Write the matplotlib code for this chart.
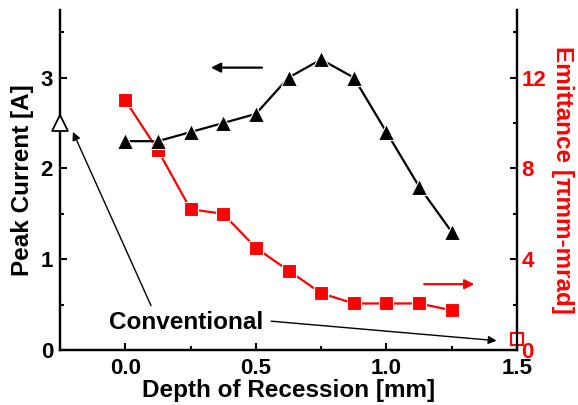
import matplotlib
matplotlib.use("Agg")
import matplotlib.pyplot as plt
from matplotlib.ticker import MultipleLocator

plt.rcParams['font.family'] = ['Liberation Sans', 'DejaVu Sans']
plt.rcParams['font.weight'] = 'bold'

depth = [0.0, 0.125, 0.25, 0.375, 0.5, 0.625, 0.75, 0.875, 1.0, 1.125, 1.25]
peak_current = [2.3, 2.3, 2.4, 2.5, 2.6, 3.0, 3.2, 3.0, 2.4, 1.8, 1.3]
emittance = [11.0, 8.8, 6.2, 6.0, 4.5, 3.5, 2.5, 2.05, 2.05, 2.05, 1.75]
conv_depth_current = -0.25
conv_current = 2.5
conv_depth_emit = 1.5
conv_emit = 0.5

fig = plt.figure(figsize=(5.78, 4.05), dpi=100)
ax = fig.add_axes([0.1038, 0.1358, 0.7907, 0.8407])
ax2 = ax.twinx()
ax.set_zorder(ax2.get_zorder() + 1)
ax.patch.set_visible(False)

ax2.plot(depth, emittance, color='#ff0000', lw=1.6, marker='s', ms=9.5,
         mec='white', mew=0.8)
ax2.plot([conv_depth_emit], [conv_emit], marker='s', ms=9, mfc='white',
         mec='#ff0000', mew=1.5, ls='none', clip_on=False, zorder=5)

ax.plot(depth, peak_current, color='black', lw=1.6, marker='^', ms=11.5,
        mec='white', mew=0.8)
ax.plot([conv_depth_current], [conv_current], marker='^', ms=11, mfc='white',
        mec='black', mew=1.3, ls='none', clip_on=False, zorder=5)

ax.set_xlim(-0.25, 1.5)
ax.set_ylim(0, 3.75)
ax2.set_ylim(0, 15)

for a in (ax, ax2):
    a.spines['top'].set_visible(False)
    for s in a.spines.values():
        s.set_linewidth(1.6)

ax.xaxis.set_major_locator(MultipleLocator(0.5))
ax.xaxis.set_minor_locator(MultipleLocator(0.25))
ax.yaxis.set_major_locator(MultipleLocator(1))
ax.yaxis.set_minor_locator(MultipleLocator(0.5))
ax2.yaxis.set_major_locator(MultipleLocator(4))
ax2.yaxis.set_minor_locator(MultipleLocator(2))

ax.tick_params(axis='both', which='major', direction='in', length=5, width=1.5,
               labelsize=16)
ax.tick_params(axis='x', which='major', pad=6)
ax.tick_params(axis='y', which='major', pad=5)
ax.tick_params(axis='both', which='minor', direction='in', length=3, width=1.5)
ax2.tick_params(axis='y', which='major', direction='in', length=5, width=1.5,
                labelsize=16, labelcolor='#ff0000', pad=3)
ax2.tick_params(axis='y', which='minor', direction='in', length=3, width=1.5)

ax.xaxis.set_major_formatter(matplotlib.ticker.FormatStrFormatter('%.1f'))
ax.set_xlabel('Depth of Recession [mm]', fontsize=17.5, fontweight='bold', labelpad=0)
ax.set_ylabel('Peak Current [A]', fontsize=17.5, fontweight='bold', labelpad=5)
ax2.set_ylabel('Emittance [\u03c0mm-mrad]', fontsize=17.5, fontweight='bold',
               color='#ff0000', rotation=270, labelpad=20)

# direction arrows
ax.annotate('', xy=(0.317, 3.11), xytext=(0.534, 3.11),
            arrowprops=dict(arrowstyle='-|>', color='black', lw=1.6,
                            mutation_scale=14))
ax2.annotate('', xy=(1.347, 2.9), xytext=(1.134, 2.9),
             arrowprops=dict(arrowstyle='-|>', color='#ff0000', lw=1.6,
                             mutation_scale=14))

ax.text(0.233, 0.30, 'Conventional', fontsize=17.5, fontweight='bold',
        ha='center', va='center')
ax.annotate('', xy=(-0.205, 2.43), xytext=(0.103, 0.46),
            arrowprops=dict(arrowstyle='-|>', color='black', lw=1.0,
                            mutation_scale=12))
ax.annotate('', xy=(1.432, 0.10), xytext=(0.548, 0.32),
            arrowprops=dict(arrowstyle='-|>', color='black', lw=1.0,
                            mutation_scale=12), annotation_clip=False)

fig.savefig('out.png', dpi=100)
